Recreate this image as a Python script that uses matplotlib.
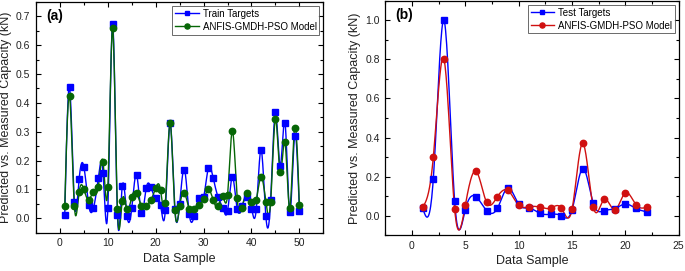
import numpy as np
import matplotlib

matplotlib.use("Agg")
import matplotlib.pyplot as plt
from matplotlib.ticker import MultipleLocator

plt.rcParams["font.family"] = ["Liberation Sans", "DejaVu Sans"]

# panel (a): training set
train_x = list(range(1, 51))
train_targets = [
    0.012, 0.455, 0.057, 0.136, 0.178, 0.045, 0.036, 0.140, 0.156, 0.036,
    0.674, 0.013, 0.111, 0.009, 0.036, 0.151, 0.018, 0.104, 0.107, 0.069,
    0.045, 0.028, 0.330, 0.033, 0.051, 0.169, 0.015, 0.007, 0.072, 0.075,
    0.174, 0.140, 0.075, 0.036, 0.026, 0.144, 0.033, 0.042, 0.073, 0.032,
    0.032, 0.238, 0.007, 0.064, 0.368, 0.182, 0.331, 0.022, 0.284, 0.027,
]
train_model = [
    0.044, 0.424, 0.044, 0.091, 0.100, 0.064, 0.091, 0.108, 0.195, 0.108,
    0.658, 0.033, 0.061, 0.031, 0.075, 0.088, 0.044, 0.044, 0.064, 0.105,
    0.099, 0.054, 0.330, 0.028, 0.042, 0.088, 0.033, 0.033, 0.048, 0.067,
    0.100, 0.064, 0.042, 0.076, 0.082, 0.303, 0.072, 0.036, 0.088, 0.055,
    0.065, 0.143, 0.057, 0.058, 0.344, 0.159, 0.263, 0.036, 0.314, 0.045,
]

# panel (b): test set
test_x = list(range(1, 23))
test_targets = [
    0.039, 0.190, 1.000, 0.073, 0.031, 0.097, 0.026, 0.037, 0.143, 0.058,
    0.039, 0.012, 0.007, 0.000, 0.029, 0.241, 0.063, 0.026, 0.036, 0.060,
    0.037, 0.020,
]
test_model = [
    0.043, 0.300, 0.800, 0.032, 0.054, 0.228, 0.068, 0.097, 0.129, 0.054,
    0.046, 0.044, 0.039, 0.039, 0.032, 0.371, 0.043, 0.083, 0.029, 0.117,
    0.056, 0.043,
]

TEXT = "#222222"


def spline(x, y, n=20):
    """Natural cubic spline through the points (Origin-style 'spline' connect)."""
    x = np.asarray(x, float)
    y = np.asarray(y, float)
    k = len(x)
    h = np.diff(x)
    A = np.zeros((k, k))
    r = np.zeros(k)
    A[0, 0] = A[-1, -1] = 1
    for i in range(1, k - 1):
        A[i, i - 1] = h[i - 1]
        A[i, i] = 2 * (h[i - 1] + h[i])
        A[i, i + 1] = h[i]
        r[i] = 6 * ((y[i + 1] - y[i]) / h[i] - (y[i] - y[i - 1]) / h[i - 1])
    m = np.linalg.solve(A, r)
    xs, ys = [], []
    for i in range(k - 1):
        t = np.linspace(x[i], x[i + 1], n, endpoint=False)
        a = x[i + 1] - t
        b = t - x[i]
        s = (m[i] * a**3 + m[i + 1] * b**3) / (6 * h[i]) \
            + (y[i] / h[i] - m[i] * h[i] / 6) * a \
            + (y[i + 1] / h[i] - m[i + 1] * h[i] / 6) * b
        xs.append(t)
        ys.append(s)
    xs.append([x[-1]])
    ys.append([y[-1]])
    return np.concatenate(xs), np.concatenate(ys)


def draw(ax, x, targets, model, tlabel, mcolor, letter):
    for y, c, mk, ms, lab in (
        (targets, "#0000ff", "s", 4.2, tlabel),
        (model, mcolor, "o", 4.6, "ANFIS-GMDH-PSO Model"),
    ):
        sx, sy = spline(x, y)
        ax.plot(sx, sy, color=c, lw=1.0, zorder=2)
        ax.plot(x, y, ls="none", marker=mk, ms=ms, color=c, zorder=3)
        ax.plot([], [], color=c, lw=1.0, marker=mk, ms=ms * 0.8, label=lab)
    ax.tick_params(direction="in", top=True, right=True, labelsize=7.5, length=3.5,
                   width=0.8, labelcolor=TEXT, pad=4)
    ax.tick_params(which="minor", direction="in", top=True, right=True, length=2, width=0.8)
    ax.set_xlabel("Data Sample", fontsize=9, labelpad=3, color=TEXT)
    ax.set_ylabel("Predicted vs. Measured Capacity (kN)", fontsize=9, labelpad=3, color=TEXT)
    ax.text(0.035, 0.97, letter, transform=ax.transAxes, fontsize=10,
            fontweight="bold", va="top", ha="left")
    leg = ax.legend(loc="upper right", fontsize=7, frameon=True, fancybox=False,
                    borderaxespad=0.4, handlelength=2.4, borderpad=0.3,
                    labelspacing=0.3, handletextpad=0.4)
    leg.get_frame().set_edgecolor("#444444")
    leg.get_frame().set_linewidth(0.7)
    for s in ax.spines.values():
        s.set_linewidth(0.9)


fig = plt.figure(figsize=(6.85, 2.71), dpi=100)
ax1 = fig.add_axes([0.0526, 0.141, 0.4194, 0.852])
ax2 = fig.add_axes([0.5625, 0.132, 0.4283, 0.865])

draw(ax1, train_x, train_targets, train_model, "Train Targets", "#066606", "(a)")
ax1.set_xlim(-5, 55)
ax1.set_ylim(-0.05, 0.75)
ax1.xaxis.set_major_locator(MultipleLocator(10))
ax1.xaxis.set_minor_locator(MultipleLocator(5))
ax1.yaxis.set_major_locator(MultipleLocator(0.1))
ax1.yaxis.set_minor_locator(MultipleLocator(0.05))

draw(ax2, test_x, test_targets, test_model, "Test Targets", "#d01010", "(b)")
ax2.set_xlim(-2.5, 25)
ax2.set_ylim(-0.1, 1.1)
ax2.xaxis.set_major_locator(MultipleLocator(5))
ax2.xaxis.set_minor_locator(MultipleLocator(2.5))
ax2.yaxis.set_major_locator(MultipleLocator(0.2))
ax2.yaxis.set_minor_locator(MultipleLocator(0.1))

fig.savefig("out.png", dpi=100)
